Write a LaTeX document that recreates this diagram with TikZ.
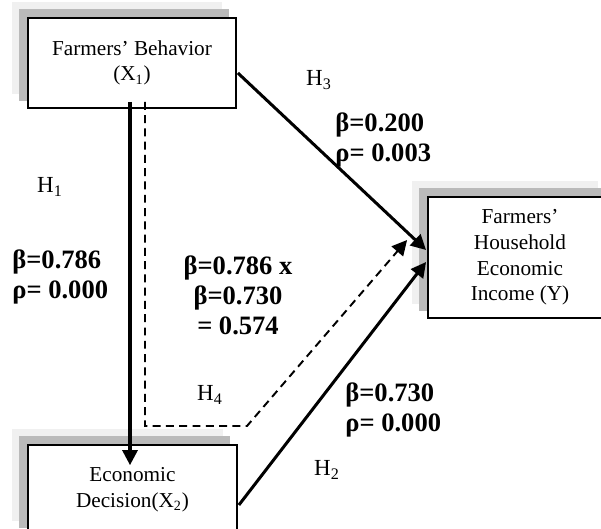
\documentclass[tikz,border=0pt]{standalone}
\usepackage{fontspec}
\setmainfont{Liberation Serif}
\usetikzlibrary{arrows.meta,backgrounds}

\begin{document}
\begin{tikzpicture}[x=0.565pt,y=-0.565pt,
    varbox/.style={draw,line width=1pt,fill=white,align=center,inner sep=0pt,
        font=\fontsize{12}{14.5}\selectfont},
    coef/.style={inner sep=0pt,font=\fontsize{15}{17}\selectfont\bfseries},
    hyp/.style={inner sep=0pt,font=\fontsize{13}{15}\selectfont},
    effect/.style={line width=1.7pt,-{Triangle[length=8.5pt,width=8.5pt]}},
    indirect/.style={line width=1.1pt,dash pattern=on 4.5pt off 3pt,
        -{Triangle[length=8.5pt,width=8.5pt]}},
    farshade/.style={fill=black!6},
    nearshade/.style={fill=black!27}]
    \useasboundingbox (0,0) rectangle (601,529);
    \clip (0,0) rectangle (601,529);

    % the three variables
    \node[varbox,minimum width=117.5pt,minimum height=50.8pt] (x1) at (132,63)
        {Farmers’ Behavior\\(X\textsubscript{1})};
    \node[varbox,minimum width=118.1pt,minimum height=50.8pt] (x2) at (132.5,490)
        {Economic\\Decision(X\textsubscript{2})};
    \node[varbox,minimum width=104pt,minimum height=68.4pt] (y) at (520,257.5)
        {Farmers’\\Household\\Economic\\Income (Y)};

    % shadows behind the boxes
    \begin{scope}[on background layer]
        \foreach \b in {x1,x2,y} {
            \fill[farshade] ([shift={(-15,-15)}]\b.north west) rectangle ([shift={(-15,-15)}]\b.south east);
            \fill[nearshade] ([shift={(-8,-8)}]\b.north west) rectangle ([shift={(-8,-8)}]\b.south east);
        }
    \end{scope}

    % paths
    \coordinate (bend) at (247,426);
    \draw[effect] ([shift={(-2,-7)}]x1.south) -- ([shift={(-2.5,21)}]x2.north);
    \draw[effect] ([shift={(1,10)}]x1.east) -- ([shift={(-1,-7.5)}]y.west);
    \draw[effect] ([shift={(1,15)}]x2.east) -- ([shift={(-1,4.5)}]y.west);
    \draw[indirect] ([shift={(13,-7)}]x1.south) |- (bend) -- ([shift={(-20,-17.5)}]y.west);

    % labels
    \node[hyp] (h3) at (319,80) {H\textsubscript{3}};
    \node[coef,align=left,anchor=west] (c3) at (335,140) {β=0.200\\ρ= 0.003};
    \node[hyp] (h1) at (50,187) {H\textsubscript{1}};
    \node[coef,align=left,anchor=west] (c1) at (12,277) {β=0.786\\ρ= 0.000};
    \node[coef,align=center] (c4) at (238,295) {β=0.786 x\\β=0.730\\= 0.574};
    \node[hyp] (h4) at (210,395) {H\textsubscript{4}};
    \node[coef,align=left,anchor=west] (c2) at (345,410) {β=0.730\\ρ= 0.000};
    \node[hyp] (h2) at (327,470) {H\textsubscript{2}};
\end{tikzpicture}
\end{document}
